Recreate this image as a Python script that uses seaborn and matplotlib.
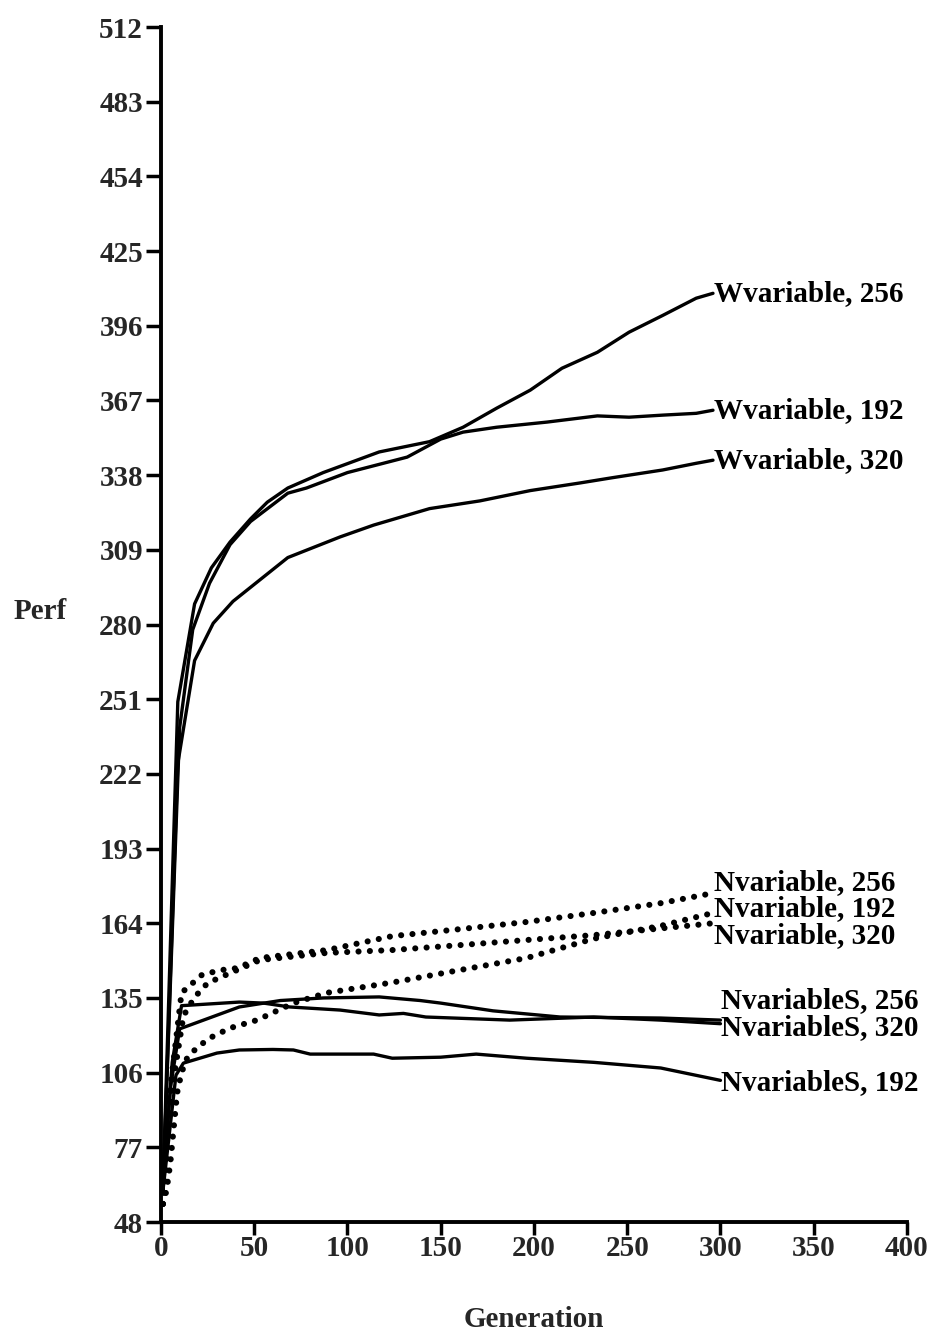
import matplotlib
matplotlib.use("Agg")
import matplotlib.pyplot as plt
import seaborn as sns
import pandas as pd

# ---- data ----
w256_x = [1, 9, 18, 27, 37, 48, 57, 68, 87, 117, 144, 162, 180, 198, 215, 234, 251, 269, 287, 296]
w256_y = [60, 250, 288, 302, 312, 321, 327.5, 333, 339, 347, 351, 356.6, 364, 371, 379.5, 385.7, 393.5, 400, 406.7, 408.6]

w192_x = [1, 10, 17, 26, 37, 48, 68, 78, 100, 132, 150, 162, 180, 207, 234, 251, 269, 287, 296]
w192_y = [60, 240, 278, 296, 311, 320, 331, 333, 339, 345, 352, 354.7, 356.6, 358.6, 361, 360.5, 361.3, 362, 363.2]

w320_x = [1, 9, 18, 28, 38.6, 68, 96, 114, 144, 171, 198, 225, 242, 269, 287, 296]
w320_y = [60, 226, 266, 280.5, 289, 306, 314, 318.6, 325, 328, 332, 335, 337, 340, 342.6, 343.8]

n256_x = [1, 5, 11, 17, 22, 32, 41, 53, 70, 89, 124, 160, 196, 232, 268, 296]
n256_y = [55, 100, 137, 140.8, 144, 145.8, 146.6, 150.5, 152, 153.6, 159, 161.7, 164.5, 168, 171.8, 175.7]

n192_x = [1, 3, 5, 8.6, 11, 14, 19, 26, 37, 51.5, 71, 89, 124, 160, 196, 232, 268, 296]
n192_y = [55, 60.4, 71, 98, 106, 111.7, 115.5, 119.4, 123.3, 126.4, 133, 137, 141, 145.8, 150.5, 158, 163, 168]

n320_x = [1, 6, 12, 18, 25, 35, 53, 89, 124, 160, 196, 232, 268, 296]
n320_y = [55, 100, 128, 135.3, 140.8, 144, 149.7, 152.5, 153.6, 155.5, 157.5, 159.4, 162, 164]

ns256_x = [1, 5, 10, 42, 64, 87, 117, 139, 150, 178, 214, 268, 300]
ns256_y = [60, 100, 123, 131.5, 134, 135, 135.4, 134, 133, 130, 127.6, 127.2, 126.4]

ns320_x = [1, 6, 11, 42, 55, 69, 96, 117, 130, 142, 187, 232, 268, 300]
ns320_y = [60, 110, 132, 133.4, 133, 131.5, 130.3, 128.4, 129, 127.6, 126.4, 127.6, 126.4, 125]

ns192_x = [1, 8, 12, 30, 42, 60, 71, 80, 114, 124, 150, 169, 196, 232, 268, 300]
ns192_y = [60, 105, 109.7, 113.6, 114.8, 115, 114.8, 113.2, 113.2, 111.6, 112, 113.2, 111.6, 110, 107.8, 103]

series_names = ["Wvariable, 256", "Wvariable, 192", "Wvariable, 320",
                "Nvariable, 256", "Nvariable, 192", "Nvariable, 320",
                "NvariableS, 256", "NvariableS, 320", "NvariableS, 192"]
label_y = [408.6, 363.2, 343.8, 179.9, 169.8, 159.3, 134.0, 123.6, 102.3]

y_ticks = [48, 77, 106, 135, 164, 193, 222, 251, 280, 309, 338, 367, 396, 425, 454, 483, 512]
x_ticks = [0, 50, 100, 150, 200, 250, 300, 350, 400]

series = [(w256_x, w256_y), (w192_x, w192_y), (w320_x, w320_y),
          (n256_x, n256_y), (n192_x, n192_y), (n320_x, n320_y),
          (ns256_x, ns256_y), (ns320_x, ns320_y), (ns192_x, ns192_y)]

# ---- plotting ----
sns.set_style("ticks")
plt.rcParams['font.family'] = ['Liberation Serif', 'DejaVu Serif']
plt.rcParams['font.weight'] = 'bold'

fig = plt.figure(figsize=(9.34, 13.37), dpi=100)
ax = fig.add_axes([0.1724, 0.0860, 0.7986, 0.8938])

for name, (xs, ys) in zip(series_names, series):
    df = pd.DataFrame({"Generation": xs, "Perf": ys})
    dotted = name.startswith("Nvariable,")
    if dotted:
        sns.lineplot(data=df, x="Generation", y="Perf", ax=ax, color="black",
                     linewidth=4.4, linestyle=(0, (0.01, 1.85)),
                     dash_capstyle="round", sort=False, estimator=None)
    else:
        sns.lineplot(data=df, x="Generation", y="Perf", ax=ax, color="black",
                     linewidth=2.4, sort=False, estimator=None)

for name, (xs, ys), ly in zip(series_names, series, label_y):
    ax.text(xs[-1] + 0.5, ly, name, ha="left", va="center",
            fontsize=21, fontweight="bold", color="black")

ax.set_xlim(0, 400)
ax.set_ylim(48, 512)
ax.set_xticks(x_ticks)
ax.set_yticks(y_ticks)
ax.set_xticklabels([str(v) for v in x_ticks], fontsize=21, fontweight="bold")
ax.set_yticklabels([str(v) for v in y_ticks], fontsize=21, fontweight="bold")
ax.tick_params(axis="y", direction="out", length=11, width=2.5, color="black", pad=2)
ax.tick_params(axis="x", direction="out", length=9, width=2.5, color="black", pad=0)

for s in ["top", "right"]:
    ax.spines[s].set_visible(False)
for s in ["left", "bottom"]:
    ax.spines[s].set_linewidth(2.8)
    ax.spines[s].set_color("black")

ax.set_xlabel("Generation", fontsize=21, fontweight="bold", labelpad=32)
ax.set_ylabel("Perf", fontsize=21, fontweight="bold", rotation=0)
ax.yaxis.set_label_coords(-0.162, 0.5)

fig.savefig("out.png", dpi=100, facecolor="white")
